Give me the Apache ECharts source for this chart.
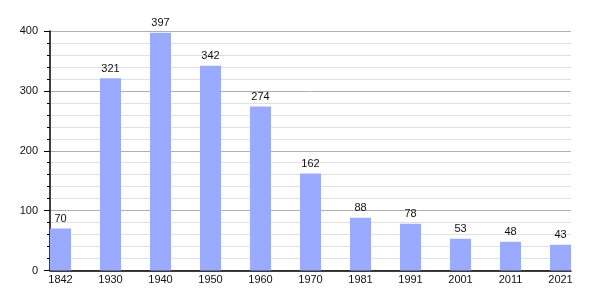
<!DOCTYPE html>
<html><head><meta charset="utf-8">
<script src="https://cdn.jsdelivr.net/npm/echarts@6/dist/echarts.min.js"></script>
<style>html,body{margin:0;padding:0;background:#fff}#c{width:600px;height:300px}</style>
</head><body><div id="c"></div>
<script>
const years = ['1842','1930','1940','1950','1960','1970','1981','1991','2001','2011','2021'];
const population = [70,321,397,342,274,162,88,78,53,48,43];
const yTicks = {min:0, max:400, interval:100, minorSplit:5};

const font = {fontFamily:'Liberation Sans, Arial, sans-serif', fontSize:11, color:'#111'};
const chart = echarts.init(document.getElementById('c'), null, {renderer:'canvas'});
chart.setOption({
  animation:false,
  grid:[
    {left:35.5, right:14.5, top:31, bottom:29.5},
    {left:50, right:29, top:31, bottom:29.5}
  ],
  xAxis:[
    {gridIndex:0, type:'category', data:years, boundaryGap:true,
     axisLine:{show:false}, axisTick:{show:false},
     axisLabel:Object.assign({margin:4, interval:0}, font)},
    {gridIndex:1, type:'value', min:0, max:1,
     axisLine:{show:true, lineStyle:{color:'#000', width:1.5}},
     axisTick:{show:false}, axisLabel:{show:false}, splitLine:{show:false}}
  ],
  yAxis:[
    {gridIndex:0, type:'value', min:yTicks.min, max:yTicks.max, interval:yTicks.interval, show:false},
    {gridIndex:1, type:'value', min:yTicks.min, max:yTicks.max, interval:yTicks.interval,
     axisLine:{show:true, lineStyle:{color:'#000', width:1.5}},
     axisTick:{show:true, inside:false, length:6, lineStyle:{color:'#000'}},
     minorTick:{show:true, splitNumber:yTicks.minorSplit, length:3, lineStyle:{color:'#000'}},
     axisLabel:Object.assign({margin:12}, font),
     splitLine:{show:true, lineStyle:{color:'#b0b0b0', width:1}},
     minorSplitLine:{show:true, lineStyle:{color:'#e0e0e0', width:1}}}
  ],
  series:[{
    type:'bar', xAxisIndex:0, yAxisIndex:0, data:population,
    barWidth:21, z:3,
    itemStyle:{color:'#9aabff'},
    label:Object.assign({show:true, position:'top', distance:4}, font)
  }]
});
</script></body></html>
